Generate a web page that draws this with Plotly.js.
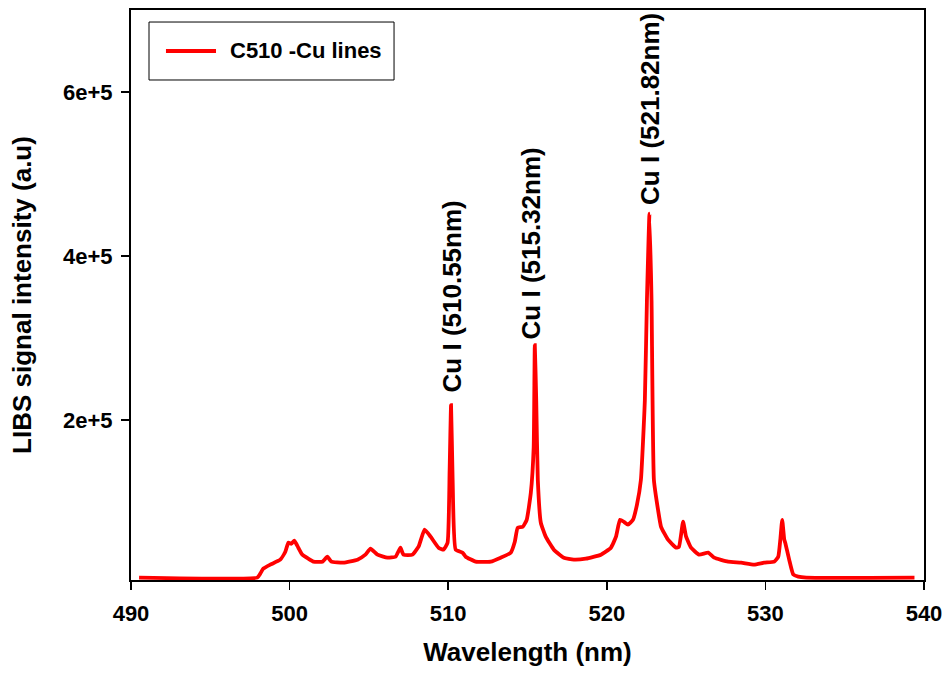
<!DOCTYPE html>
<html>
<head>
<meta charset="utf-8">
<script src="https://cdn.plot.ly/plotly-3.0.1.min.js"></script>
<style>html,body{margin:0;padding:0;background:#fff;}#chart{width:948px;height:682px;}</style>
</head>
<body>
<div id="chart"></div>
<script>
// Wavelength (nm)
const wavelength = [
 490.51, 497.96, 498.15, 498.34, 498.78, 499.41, 499.73, 499.92, 500.11, 500.30,
 500.55, 500.80, 501.18, 501.50, 502.07, 502.38, 502.63, 503.39, 504.28, 504.78,
 505.10, 505.54, 506.17, 506.68, 506.99, 507.18, 507.75, 508.13, 508.51, 508.89,
 509.39, 509.71, 509.96, 510.09, 510.18, 510.28, 510.47, 510.91, 511.10, 511.73,
 512.68, 513.31, 513.94, 514.20, 514.38, 514.70, 514.95, 515.21, 515.39, 515.46,
 515.55, 515.65, 515.84, 516.15, 516.66, 517.29, 517.92, 518.68, 519.63, 520.26,
 520.58, 520.83, 521.08, 521.33, 521.65, 521.90, 522.15, 522.40, 522.53, 522.69,
 522.82, 522.97, 523.23, 523.42, 523.86, 524.37, 524.55, 524.81, 525.00, 525.31,
 525.82, 526.39, 526.77, 527.65, 528.47, 529.29, 529.92, 530.56, 530.81, 530.94,
 531.06, 531.19, 531.25, 531.50, 531.76, 532.07, 532.58, 539.40
];
// LIBS signal intensity (a.u)
const intensity = [
 7900, 7900, 12800, 18800, 23700, 29800, 39500, 50500, 49200, 52900,
 44400, 35900, 31000, 27400, 27400, 33400, 27400, 26100, 29800, 35900,
 43200, 35900, 32200, 33400, 44400, 35900, 35900, 45600, 66300, 57800,
 44400, 42000, 50500, 139000, 218300, 127000, 42000, 38300, 33400, 27400,
 27400, 32200, 38300, 51700, 68700, 69900, 78400, 111300, 167200, 291200,
 224400, 127100, 74800, 57800, 42000, 32200, 29800, 31000, 35900, 44400,
 57800, 78400, 76000, 72400, 78400, 96700, 127100, 224400, 346000, 451700,
 346000, 127100, 90600, 69900, 54100, 44400, 45600, 76000, 57800, 44400,
 35900, 38300, 32200, 27400, 26100, 23700, 26100, 27400, 33400, 54100,
 78400, 54100, 50500, 29800, 11600, 9100, 7900, 7900
];
const seriesName = "C510 -Cu lines";
const peakLabels = ["Cu I (510.55nm)", "Cu I (515.32nm)", "Cu I (521.82nm)"];
const peakLabelX = [510.30, 515.28, 522.72];
const peakLabelY = [350700, 415300, 579300];
const xTicks = [490, 500, 510, 520, 530, 540];
const yTickVals = [200000, 400000, 600000];
const yTickText = ["2e+5", "4e+5", "6e+5"];

const FONT = "Liberation Sans, Arial, sans-serif";
const RED = "#ff0000";

const trace = {
  x: wavelength, y: intensity, type: "scatter", mode: "lines",
  name: seriesName, showlegend: false,
  line: {color: RED, width: 3.8, shape: "spline", smoothing: 0.4}
};

const annotations = peakLabels.map((t, i) => ({
  x: peakLabelX[i], y: peakLabelY[i], xref: "x", yref: "y",
  text: "<b>" + t + "</b>", showarrow: false, textangle: -90,
  xanchor: "center", yanchor: "middle",
  font: {family: FONT, size: 26, color: "#000", weight: "bold"}
}));
// legend text (manual legend box)
annotations.push({
  x: 0.1223, y: 0.9281, xref: "paper", yref: "paper",
  text: "<b>" + seriesName + "</b>", showarrow: false,
  xanchor: "left", yanchor: "middle",
  font: {family: FONT, size: 22, color: "#000", weight: "bold"}
});

const shapes = [
  {type: "rect", xref: "paper", yref: "paper", x0: 0.0227, x1: 0.3317, y0: 0.8772, y1: 0.9789,
   line: {color: "#000", width: 1}, fillcolor: "#fff"},
  {type: "line", xref: "paper", yref: "paper", x0: 0.0441, x1: 0.1072, y0: 0.9281, y1: 0.9281,
   line: {color: RED, width: 3.8}}
];

const layout = {
  width: 948, height: 682,
  margin: {l: 131, r: 24, t: 10, b: 102},
  paper_bgcolor: "#fff", plot_bgcolor: "#fff",
  font: {family: FONT, color: "#000"},
  showlegend: false,
  xaxis: {
    range: [490, 540], tickvals: xTicks, ticktext: xTicks.map(v => "<b>" + v + "</b>"),
    ticks: "outside", ticklen: 8, tickwidth: 1.5, tickcolor: "#000",
    showline: true, linecolor: "#000", linewidth: 2, mirror: true,
    showgrid: false, zeroline: false, ticklabelstandoff: 5,
    tickfont: {family: FONT, size: 22, color: "#000", weight: "bold"},
    title: {text: "<b>Wavelength (nm)</b>", font: {family: FONT, size: 26, color: "#000"}, standoff: 17}
  },
  yaxis: {
    range: [5000, 700000], tickvals: yTickVals, ticktext: yTickText.map(t => "<b>" + t + "</b>"),
    ticks: "outside", ticklen: 8, tickwidth: 1.5, tickcolor: "#000",
    showline: true, linecolor: "#000", linewidth: 2, mirror: true,
    showgrid: false, zeroline: false, ticklabelstandoff: 4,
    tickfont: {family: FONT, size: 22, color: "#000", weight: "bold"},
    title: {text: "<b>LIBS signal intensity (a.u)</b>", font: {family: FONT, size: 26, color: "#000"}, standoff: 24}
  },
  shapes: shapes,
  annotations: annotations
};

Plotly.newPlot("chart", [trace], layout, {displayModeBar: false, staticPlot: true});
</script>
</body>
</html>
